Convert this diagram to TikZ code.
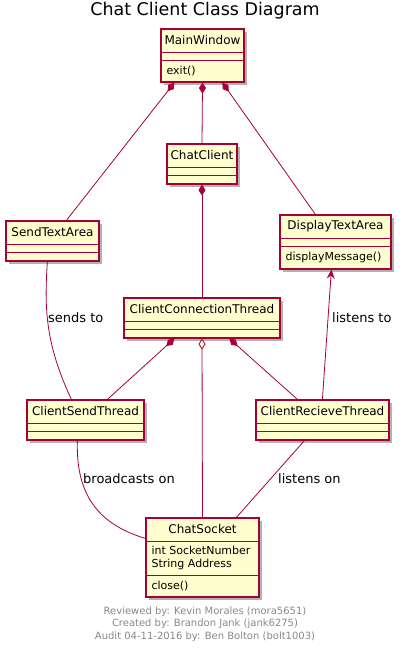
\documentclass[tikz,border=0pt]{standalone}
\usepackage{fontspec}
\setmainfont{DejaVu Sans}
\usetikzlibrary{calc,arrows.meta,shadows}

\definecolor{umlred}{HTML}{A80036}
\definecolor{umlfill}{HTML}{FEFECE}
\definecolor{umlgray}{HTML}{888888}

\begin{document}
\begin{tikzpicture}[x=1pt, y=-1pt]

\tikzset{
  classbox/.style={draw=umlred, fill=umlfill, line width=1.2pt, inner sep=0pt,
    drop shadow={shadow xshift=3pt, shadow yshift=-3pt, fill=black, opacity=0.3}},
  classsep/.style={draw=umlred, line width=1.2pt},
  clsname/.style={inner sep=0pt, font=\fontsize{12}{14}\selectfont},
  clsmember/.style={inner sep=0pt, anchor=west, align=left, font=\fontsize{11}{13}\selectfont},
  assoc/.style={draw=umlred, line width=0.8pt},
  comp/.style={assoc, {Diamond[width=7pt,length=11pt]}-},
  aggr/.style={assoc, {Diamond[open,width=7pt,length=11pt,fill=umlfill]}-},
  depend/.style={assoc, -{Stealth[width=8pt,length=9pt,inset=3pt]}},
  lbl/.style={inner sep=0pt, anchor=west, font=\fontsize{13}{15}\selectfont},
}

\useasboundingbox (0,0) rectangle (402,652);

\node[inner sep=0pt, font=\fontsize{17.5}{20}\selectfont, name=title] at (205,11) {Chat Client Class Diagram};

% classes
\node[classbox, minimum width=83pt, minimum height=53pt, name=mainwin] at (202.5,55.5) {};
\node[classbox, minimum width=70pt, minimum height=40pt, name=chatclient] at (202,164) {};
\node[classbox, minimum width=93pt, minimum height=40pt, name=sendarea] at (52.5,241) {};
\node[classbox, minimum width=111pt, minimum height=54pt, name=disparea] at (335.5,242) {};
\node[classbox, minimum width=156pt, minimum height=40pt, name=connthread] at (202,318) {};
\node[classbox, minimum width=117pt, minimum height=40pt, name=sendthread] at (85.5,420) {};
\node[classbox, minimum width=133pt, minimum height=40pt, name=recvthread] at (322.5,420) {};
\node[classbox, minimum width=113pt, minimum height=79pt, name=socket] at (202.5,557.5) {};

% compartments
\foreach \cls in {mainwin,chatclient,sendarea,disparea,connthread,sendthread,recvthread} {
  \draw[classsep] ($(\cls.north west)+(0,24)$) -- ($(\cls.north east)+(0,24)$);
  \draw[classsep] ($(\cls.north west)+(0,32)$) -- ($(\cls.north east)+(0,32)$);
}
\draw[classsep] ($(socket.north west)+(0,24)$) -- ($(socket.north east)+(0,24)$);
\draw[classsep] ($(socket.north west)+(0,58)$) -- ($(socket.north east)+(0,58)$);

% names and members
\node[clsname, name=mainwinname] at ($(mainwin.north)+(0,12)$) {MainWindow};
\node[clsmember, name=mainwinexit] at ($(mainwin.north west)+(6,43)$) {exit()};
\node[clsname, name=chatclientname] at ($(chatclient.north)+(0,12)$) {ChatClient};
\node[clsname, name=sendareaname] at ($(sendarea.north)+(0,12)$) {SendTextArea};
\node[clsname, name=dispareaname] at ($(disparea.north)+(0,12)$) {DisplayTextArea};
\node[clsmember, name=dispareamsg] at ($(disparea.north west)+(6,43)$) {displayMessage()};
\node[clsname, name=connthreadname] at ($(connthread.north)+(0,12)$) {ClientConnectionThread};
\node[clsname, name=sendthreadname] at ($(sendthread.north)+(0,12)$) {ClientSendThread};
\node[clsname, name=recvthreadname] at ($(recvthread.north)+(0,12)$) {ClientRecieveThread};
\node[clsname, name=socketname] at ($(socket.north)+(0,12)$) {ChatSocket};
\node[clsmember, name=socketattr] at ($(socket.north west)+(6,41)$) {int SocketNumber\\String Address};
\node[clsmember, name=socketclose] at ($(socket.north west)+(6,69)$) {close()};

% relations
\draw[comp] ($(mainwin.south west)+(14,0)$) -- ($(sendarea.north west)+(61,0)$);
\draw[comp] (mainwin.south) -- (chatclient.north);
\draw[comp] ($(mainwin.south west)+(62,0)$) -- ($(disparea.north west)+(36,0)$);
\draw[comp] (chatclient.south) -- (connthread.north);
\draw[assoc] ($(sendarea.south west)+(42,0)$) .. controls (44,310) and (46,345) .. ($(sendthread.north west)+(45,0)$);
\draw[depend] ($(recvthread.north west)+(67,0)$) -- ($(disparea.south west)+(52,0)$);
\draw[comp] ($(connthread.south west)+(51,0)$) -- ($(sendthread.north west)+(81,0)$);
\draw[aggr] (connthread.south) -- (socket.north);
\draw[comp] ($(connthread.south west)+(106,0)$) -- ($(recvthread.north west)+(42,0)$);
\draw[assoc] ($(sendthread.south west)+(51,0)$) .. controls (76,485) and (90,522) .. ($(socket.north west)+(0,21)$);
\draw[assoc] ($(recvthread.south west)+(49,0)$) -- ($(socket.north west)+(91,0)$);

% labels
\node[lbl, name=lblsends] at (48,318) {sends to};
\node[lbl, name=lbllistensto] at (332,318) {listens to};
\node[lbl, name=lblbroadcast] at (83,479) {broadcasts on};
\node[lbl, name=lbllistenson] at (278,479) {listens on};

% footer
\node[inner sep=0pt, align=center, text=umlgray, font=\fontsize{10}{12.3}\selectfont, name=footer] at (205,624)
  {Reviewed by: Kevin Morales (mora5651)\\Created by: Brandon Jank (jank6275)\\Audit 04-11-2016 by: Ben Bolton (bolt1003)};

\end{tikzpicture}
\end{document}
